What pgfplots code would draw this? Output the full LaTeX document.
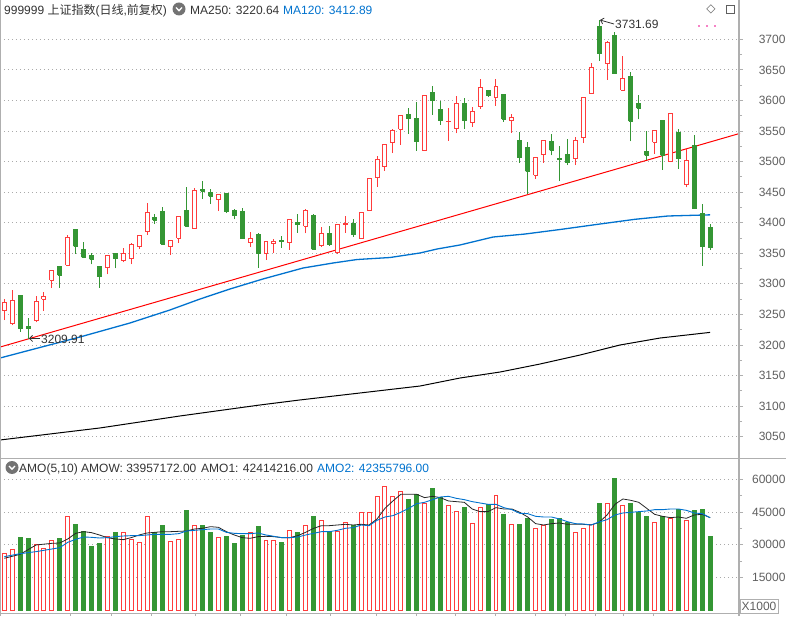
\documentclass[border=0pt]{standalone}
\usepackage{pgfplots}
\pgfplotsset{compat=1.18}
\usetikzlibrary{arrows.meta}
\usepackage{fontspec}
\setmainfont{Liberation Sans}
\newfontfamily\cjk{Noto Sans CJK SC}
\newfontfamily\sym{DejaVu Sans}

\definecolor{upred}{RGB}{255,60,60}
\definecolor{dngreen}{RGB}{52,150,52}
\definecolor{mablue}{RGB}{0,114,206}
\definecolor{txt}{RGB}{51,51,51}
\definecolor{axgray}{RGB}{175,175,175}
\definecolor{gridc}{RGB}{170,170,170}
\definecolor{lbl}{RGB}{95,95,95}

\pgfplotsset{
  chartax/.style={
    scale only axis, width=740pt, anchor=south west,
    xmin=0.458, xmax=93.77,
    axis line style={draw=none},
    tick align=outside, ytick pos=right, yticklabel pos=right, xtick pos=bottom,
    major tick length=3pt, minor tick length=2pt,
    every tick/.style={draw=axgray, line width=0.8pt},
    ymajorgrids,
    major grid style={draw=gridc, line width=0.8pt, dash pattern=on 1pt off 3pt},
    yticklabel style={anchor=east, xshift=46pt, text=lbl, font=\fontsize{12}{14}\selectfont},
    /pgf/number format/1000 sep={}, /pgf/number format/assume math mode=true,
    scaled y ticks=false,
  }
}

\begin{document}
\begin{tikzpicture}[every node/.style={font=\fontsize{12}{14}\selectfont}]
\useasboundingbox (0pt,0pt) rectangle (786pt,616pt);

\begin{axis}[chartax, at={(0pt,159pt)}, height=457pt,
  ymin=3016.8, ymax=3764.3,
  ytick={3050,3100,...,3700}, minor y tick num=1, xtick=\empty,
  unbounded coords=jump]

% trend line through the 3209.91 low
\addplot[red, line width=1pt] coordinates {(0.458,3196.6) (93.77,3546.2)};
% MA250
\addplot[black, line width=1pt] coordinates {
(0.458,3044.6) (13.067,3064.3) (23.156,3083.9) (33.245,3101.9) (38.289,3110.1)
(45.855,3121.5) (53.421,3132.9) (58.465,3146.0) (63.509,3155.8) (68.553,3168.9)
(73.597,3183.6) (78.641,3200.0) (83.685,3211.4) (90,3220.64)};
% MA120
\addplot[mablue, line width=1.3pt] coordinates {
(0.458,3178.7) (5.25,3195.1) (10.546,3213.1) (16.851,3236.0) (21.895,3257.3)
(25.678,3275.2) (29.461,3291.6) (33.623,3308.0) (38.667,3325.9) (42.45,3334.1)
(45.477,3339.8) (49.638,3343.1) (53.421,3350.5) (55.565,3357.0) (58.465,3363.6)
(62.627,3376.6) (66.662,3381.5) (71.076,3388.9) (76.12,3397.9) (80.534,3405.6)
(84.695,3411.0) (90,3412.89)};

% wicks of rising days: (day,low) (day,high)
\addplot[upred, line width=1pt] coordinates {
(1,3240.6) (1,3275.6) (1,nan) (2,3232) (2,3290) (2,nan) (5,3237) (5,3279.4) (5,nan)
(6,3256) (6,3286) (6,nan) (7,3294) (7,3322) (7,nan) (9,3330) (9,3380.7) (9,nan)
(14,3315.5) (14,3347) (14,nan) (16,3335) (16,3359) (16,nan) (17,3332) (17,3367) (17,nan)
(18,3357.7) (18,3380.7) (18,nan) (19,3379.6) (19,3431.6) (19,nan) (22,3347) (22,3370.3) (22,nan)
(23,3366.5) (23,3409.7) (23,nan) (25,3390) (25,3456.8) (25,nan) (28,3419) (28,3447.5) (28,nan)
(32,3360) (32,3385.6) (32,nan) (34,3339.6) (34,3369) (34,nan) (35,3351) (35,3374) (35,nan)
(37,3355.5) (37,3405.5) (37,nan) (39,3382.4) (39,3422.5) (39,nan) (41,3360.4) (41,3393.4) (41,nan)
(43,3349.5) (43,3397.8) (43,nan) (44,3383.5) (44,3410.4) (44,nan) (46,3373.6) (46,3416) (46,nan)
(47,3419.7) (47,3472) (47,nan) (48,3458.5) (48,3508.7) (48,nan) (49,3484.7) (49,3527.9) (49,nan)
(50,3514) (50,3554) (50,nan) (51,3527.9) (51,3575.4) (51,nan) (54,3518) (54,3608.7) (54,nan)
(57,3534) (57,3587.4) (57,nan) (58,3546) (58,3607) (58,nan) (60,3557) (60,3589) (60,nan)
(61,3586.3) (61,3635) (61,nan) (63,3591) (63,3634.4) (63,nan) (65,3547) (65,3577.6) (65,nan)
(68,3471.7) (68,3506) (68,nan) (69,3497.8) (69,3533.7) (69,nan) (73,3494) (73,3540.8) (73,nan)
(74,3530) (74,3604.3) (74,nan) (75,3612) (75,3661.4) (75,nan) (77,3634.2) (77,3696.7) (77,nan)
(79,3616.8) (79,3672.3) (79,nan) (83,3513.2) (83,3551.4) (83,nan) (85,3500) (85,3578) (85,nan)
(87,3458) (87,3520.8)};
% wicks of falling days
\addplot[dngreen, line width=1pt] coordinates {
(3,3221.5) (3,3280.5) (3,nan) (4,3209.91) (4,3244) (4,nan) (8,3294) (8,3328) (8,nan)
(10,3349) (10,3389) (10,nan) (11,3342) (11,3368) (11,nan) (12,3332) (12,3350.6) (12,nan)
(13,3294) (13,3328) (13,nan) (15,3325.5) (15,3349) (15,nan) (20,3397.6) (20,3415) (20,nan)
(21,3365) (21,3425) (21,nan) (24,3394.4) (24,3457.9) (24,nan) (26,3438.7) (26,3467.7) (26,nan)
(27,3430.5) (27,3454.6) (27,nan) (29,3415.7) (29,3448) (29,nan) (30,3405.3) (30,3422.8) (30,nan)
(31,3374.7) (31,3423.4) (31,nan) (33,3326.4) (33,3384) (33,nan) (36,3358.8) (36,3379) (36,nan)
(38,3383.5) (38,3414) (38,nan) (40,3355.5) (40,3414.8) (40,nan) (42,3362) (42,3394) (42,nan)
(45,3377) (45,3406.6) (45,nan) (52,3545.4) (52,3587.4) (52,nan) (53,3517.5) (53,3597.3) (53,nan)
(55,3576.5) (55,3623) (55,nan) (56,3560) (56,3598.4) (56,nan) (59,3553.6) (59,3603.3) (59,nan)
(62,3606) (62,3617) (62,nan) (64,3565) (64,3610.4) (64,nan) (66,3497.8) (66,3549) (66,nan)
(67,3447.3) (67,3532.6) (67,nan) (70,3510.3) (70,3545.6) (70,nan) (71,3468) (71,3526) (71,nan)
(72,3494) (72,3537.5) (72,nan) (76,3665.2) (76,3731.69) (76,nan) (78,3644) (78,3711.4) (78,nan)
(80,3533) (80,3646.2) (80,nan) (81,3569) (81,3608.7) (81,nan) (82,3503) (82,3549.8) (82,nan)
(84,3486.5) (84,3566.7) (84,nan) (86,3488) (86,3553.6) (86,nan) (88,3423) (88,3543.8) (88,nan)
(89,3329.8) (89,3430.8) (89,nan) (90,3355.5) (90,3397.5)};

% bodies of rising days (open to close), hollow
\addplot[draw=upred, fill=white, line width=1pt] coordinates {
(0.75,3257) (1.25,3257) (1.25,3270) (0.75,3270) (0.75,3257) (1,nan)
(1.75,3235) (2.25,3235) (2.25,3273) (1.75,3273) (1.75,3235) (2,nan)
(4.75,3240.6) (5.25,3240.6) (5.25,3271.8) (4.75,3271.8) (4.75,3240.6) (5,nan)
(5.75,3275) (6.25,3275) (6.25,3279.4) (5.75,3279.4) (5.75,3275) (6,nan)
(6.75,3305.7) (7.25,3305.7) (7.25,3321.6) (6.75,3321.6) (6.75,3305.7) (7,nan)
(8.75,3330.3) (9.25,3330.3) (9.25,3375.2) (8.75,3375.2) (8.75,3330.3) (9,nan)
(13.75,3326) (14.25,3326) (14.25,3347) (13.75,3347) (13.75,3326) (14,nan)
(15.75,3339) (16.25,3339) (16.25,3349) (15.75,3349) (15.75,3339) (16,nan)
(16.75,3340.7) (17.25,3340.7) (17.25,3363.7) (16.75,3363.7) (16.75,3340.7) (17,nan)
(17.75,3360.4) (18.25,3360.4) (18.25,3378.5) (17.75,3378.5) (17.75,3360.4) (18,nan)
(18.75,3385) (19.25,3385) (19.25,3416) (18.75,3416) (18.75,3385) (19,nan)
(21.75,3360.4) (22.25,3360.4) (22.25,3370.3) (21.75,3370.3) (21.75,3360.4) (22,nan)
(22.75,3374.7) (23.25,3374.7) (23.25,3409.7) (22.75,3409.7) (22.75,3374.7) (23,nan)
(24.75,3390) (25.25,3390) (25.25,3452.4) (24.75,3452.4) (24.75,3390) (25,nan)
(27.75,3437.6) (28.25,3437.6) (28.25,3445.8) (27.75,3445.8) (27.75,3437.6) (28,nan)
(31.75,3367) (32.25,3367) (32.25,3373.6) (31.75,3373.6) (31.75,3367) (32,nan)
(33.75,3349) (34.25,3349) (34.25,3369) (33.75,3369) (33.75,3349) (34,nan)
(34.75,3366) (35.25,3366) (35.25,3368.7) (34.75,3368.7) (34.75,3366) (35,nan)
(36.75,3367.6) (37.25,3367.6) (37.25,3405.5) (36.75,3405.5) (36.75,3367.6) (37,nan)
(38.75,3394) (39.25,3394) (39.25,3420.3) (38.75,3420.3) (38.75,3394) (39,nan)
(40.75,3362) (41.25,3362) (41.25,3382.4) (40.75,3382.4) (40.75,3362) (41,nan)
(42.75,3351) (43.25,3351) (43.25,3397.8) (42.75,3397.8) (42.75,3351) (43,nan)
(43.75,3397.3) (44.25,3397.3) (44.25,3398.4) (43.75,3398.4) (43.75,3397.3) (44,nan)
(45.75,3374.7) (46.25,3374.7) (46.25,3416) (45.75,3416) (45.75,3374.7) (46,nan)
(46.75,3419.7) (47.25,3419.7) (47.25,3472) (46.75,3472) (46.75,3419.7) (47,nan)
(47.75,3473.8) (48.25,3473.8) (48.25,3503.3) (47.75,3503.3) (47.75,3473.8) (48,nan)
(48.75,3491.8) (49.25,3491.8) (49.25,3527.9) (48.75,3527.9) (48.75,3491.8) (49,nan)
(49.75,3531) (50.25,3531) (50.25,3550.8) (49.75,3550.8) (49.75,3531) (50,nan)
(50.75,3552.5) (51.25,3552.5) (51.25,3575.4) (50.75,3575.4) (50.75,3552.5) (51,nan)
(53.75,3518) (54.25,3518) (54.25,3608.7) (53.75,3608.7) (53.75,3518) (54,nan)
(56.75,3565) (57.25,3565) (57.25,3566) (56.75,3566) (56.75,3565) (57,nan)
(57.75,3554) (58.25,3554) (58.25,3595) (57.75,3595) (57.75,3554) (58,nan)
(59.75,3564) (60.25,3564) (60.25,3582) (59.75,3582) (59.75,3564) (60,nan)
(60.75,3590) (61.25,3590) (61.25,3621.3) (60.75,3621.3) (60.75,3590) (61,nan)
(62.75,3605) (63.25,3605) (63.25,3623) (62.75,3623) (62.75,3605) (63,nan)
(64.75,3567) (65.25,3567) (65.25,3572) (64.75,3572) (64.75,3567) (65,nan)
(67.75,3478) (68.25,3478) (68.25,3506) (67.75,3506) (67.75,3478) (68,nan)
(68.75,3510.9) (69.25,3510.9) (69.25,3533.7) (68.75,3533.7) (68.75,3510.9) (69,nan)
(72.75,3504.3) (73.25,3504.3) (73.25,3534.2) (72.75,3534.2) (72.75,3504.3) (73,nan)
(73.75,3540.2) (74.25,3540.2) (74.25,3604.3) (73.75,3604.3) (73.75,3540.2) (74,nan)
(74.75,3612) (75.25,3612) (75.25,3654.3) (74.75,3654.3) (74.75,3612) (75,nan)
(76.75,3660.3) (77.25,3660.3) (77.25,3695) (76.75,3695) (76.75,3660.3) (77,nan)
(78.75,3616.8) (79.25,3616.8) (79.25,3636.4) (78.75,3636.4) (78.75,3616.8) (79,nan)
(82.75,3531.8) (83.25,3531.8) (83.25,3551.4) (82.75,3551.4) (82.75,3531.8) (83,nan)
(84.75,3500) (85.25,3500) (85.25,3578) (84.75,3578) (84.75,3500) (85,nan)
(86.75,3462.4) (87.25,3462.4) (87.25,3502.3) (86.75,3502.3) (86.75,3462.4)};
% bodies of falling days (close to open), filled
\addplot[draw=dngreen, fill=dngreen, line width=1pt] coordinates {
(2.75,3227) (3.25,3227) (3.25,3280.5) (2.75,3280.5) (2.75,3227) (3,nan)
(3.75,3227.4) (4.25,3227.4) (4.25,3230) (3.75,3230) (3.75,3227.4) (4,nan)
(7.75,3314) (8.25,3314) (8.25,3328) (7.75,3328) (7.75,3314) (8,nan)
(9.75,3361.5) (10.25,3361.5) (10.25,3389) (9.75,3389) (9.75,3361.5) (10,nan)
(10.75,3343.5) (11.25,3343.5) (11.25,3356) (10.75,3356) (10.75,3343.5) (11,nan)
(11.75,3340) (12.25,3340) (12.25,3345.6) (11.75,3345.6) (11.75,3340) (12,nan)
(12.75,3312) (13.25,3312) (13.25,3328) (12.75,3328) (12.75,3312) (13,nan)
(14.75,3342) (15.25,3342) (15.25,3349) (14.75,3349) (14.75,3342) (15,nan)
(19.75,3404) (20.25,3404) (20.25,3408.6) (19.75,3408.6) (19.75,3404) (20,nan)
(20.75,3365) (21.25,3365) (21.25,3418.4) (20.75,3418.4) (20.75,3365) (21,nan)
(23.75,3394.4) (24.25,3394.4) (24.25,3420) (23.75,3420) (23.75,3394.4) (24,nan)
(25.75,3451.8) (26.25,3451.8) (26.25,3454.6) (25.75,3454.6) (25.75,3451.8) (26,nan)
(26.75,3443.6) (27.25,3443.6) (27.25,3449.6) (26.75,3449.6) (26.75,3443.6) (27,nan)
(28.75,3418.4) (29.25,3418.4) (29.25,3448) (28.75,3448) (28.75,3418.4) (29,nan)
(29.75,3412.4) (30.25,3412.4) (30.25,3419.5) (29.75,3419.5) (29.75,3412.4) (30,nan)
(30.75,3374.7) (31.25,3374.7) (31.25,3418.4) (30.75,3418.4) (30.75,3374.7) (31,nan)
(32.75,3349) (33.25,3349) (33.25,3381.3) (32.75,3381.3) (32.75,3349) (33,nan)
(35.75,3368.7) (36.25,3368.7) (36.25,3371.4) (35.75,3371.4) (35.75,3368.7) (36,nan)
(37.75,3396.7) (38.25,3396.7) (38.25,3401) (37.75,3401) (37.75,3396.7) (38,nan)
(39.75,3356.6) (40.25,3356.6) (40.25,3411) (39.75,3411) (39.75,3356.6) (40,nan)
(41.75,3363.7) (42.25,3363.7) (42.25,3383) (41.75,3383) (41.75,3363.7) (42,nan)
(44.75,3380.2) (45.25,3380.2) (45.25,3399.5) (44.75,3399.5) (44.75,3380.2) (45,nan)
(51.75,3570) (52.25,3570) (52.25,3577.6) (51.75,3577.6) (51.75,3570) (52,nan)
(52.75,3532.2) (53.25,3532.2) (53.25,3571) (52.75,3571) (52.75,3532.2) (53,nan)
(54.75,3599.5) (55.25,3599.5) (55.25,3613) (54.75,3613) (54.75,3599.5) (55,nan)
(55.75,3566.7) (56.25,3566.7) (56.25,3585.8) (55.75,3585.8) (55.75,3566.7) (56,nan)
(58.75,3566.7) (59.25,3566.7) (59.25,3595.6) (58.75,3595.6) (58.75,3566.7) (59,nan)
(61.75,3607.7) (62.25,3607.7) (62.25,3617) (61.75,3617) (61.75,3607.7) (62,nan)
(63.75,3569.4) (64.25,3569.4) (64.25,3610.4) (63.75,3610.4) (63.75,3569.4) (64,nan)
(65.75,3506) (66.25,3506) (66.25,3535) (65.75,3535) (65.75,3506) (66,nan)
(66.75,3484) (67.25,3484) (67.25,3522.8) (66.75,3522.8) (66.75,3484) (67,nan)
(69.75,3518.5) (70.25,3518.5) (70.25,3532.6) (69.75,3532.6) (69.75,3518.5) (70,nan)
(70.75,3504) (71.25,3504) (71.25,3505) (70.75,3505) (70.75,3504) (71,nan)
(71.75,3497.8) (72.25,3497.8) (72.25,3510.9) (71.75,3510.9) (71.75,3497.8) (72,nan)
(75.75,3676.6) (76.25,3676.6) (76.25,3721.2) (75.75,3721.2) (75.75,3676.6) (76,nan)
(77.75,3644) (78.25,3644) (78.25,3707) (77.75,3707) (77.75,3644) (78,nan)
(79.75,3565.8) (80.25,3565.8) (80.25,3638.6) (79.75,3638.6) (79.75,3565.8) (80,nan)
(80.75,3587) (81.25,3587) (81.25,3595.6) (80.75,3595.6) (80.75,3587) (81,nan)
(81.75,3510) (82.25,3510) (82.25,3516) (81.75,3516) (81.75,3510) (82,nan)
(83.75,3510) (84.25,3510) (84.25,3566.7) (83.75,3566.7) (83.75,3510) (84,nan)
(85.75,3504.5) (86.25,3504.5) (86.25,3547) (85.75,3547) (85.75,3504.5) (86,nan)
(87.75,3423) (88.25,3423) (88.25,3526.9) (87.75,3526.9) (87.75,3423) (88,nan)
(88.75,3361) (89.25,3361) (89.25,3415.5) (88.75,3415.5) (88.75,3361) (89,nan)
(89.75,3359.3) (90.25,3359.3) (90.25,3391.5) (89.75,3391.5) (89.75,3359.3)};
\end{axis}

\begin{axis}[chartax, at={(0pt,3pt)}, height=156pt,
  ymin=-1377, ymax=70242,
  ytick={15000,30000,45000,60000}, minor y tick num=1,
  xtick={9.28,14.54,19.59,25.05,30.72,36.61,42.07,47.96,53.0,57.83,62.87,67.92,71.7,75.48,79.01,82.79},
  xticklabels={}]
\addplot[ybar, bar width=0.5, bar shift=0pt, draw=upred, fill=white, line width=1pt] coordinates {
(1,25714) (2,27857) (5,30153) (6,28316) (7,31684) (9,43010) (14,33673) (16,35663)
(17,32143) (18,31071) (19,43010) (22,31531) (23,32449) (25,38571) (28,33061) (32,35663)
(34,31684) (35,31684) (37,36582) (39,38571) (41,41173) (43,35969) (44,39949) (46,44847)
(47,44847) (48,52194) (49,56786) (50,52194) (51,54490) (54,48673) (57,48061) (58,45306)
(60,39796) (61,47143) (63,52653) (65,39337) (68,37194) (69,38571) (73,35663) (74,37194)
(75,39337) (77,48673) (79,48061) (83,40255) (85,41786) (87,40867)};
\addplot[ybar, bar width=0.5, bar shift=0pt, draw=dngreen, fill=dngreen, line width=1pt] coordinates {
(3,33061) (4,32602) (8,32602) (10,39031) (11,35969) (12,29082) (13,30306) (15,35357)
(20,35663) (21,38571) (24,45459) (26,38571) (27,35357) (29,33673) (30,30306) (31,34133)
(33,38112) (36,30765) (38,35357) (40,43010) (42,35969) (45,38571) (52,50663) (53,52959)
(55,55561) (56,51735) (59,46837) (62,48367) (64,43622) (66,39031) (67,41786) (70,41327)
(71,41786) (72,39949) (76,48673) (78,60153) (80,48673) (81,44847) (82,42704) (84,42704)
(86,46071) (88,45459) (89,46071) (90,33957)};
% AMO1 (5)
\addplot[black!85, line width=0.8pt] coordinates {
(1,23724) (3,25561) (5,29847) (7,30612) (8,30765) (9,32602) (10,35204) (11,35969)
(12,35510) (13,34439) (14,33214) (15,32602) (16,32296) (17,33214) (18,34439) (19,35357)
(20,35663) (21,35969) (22,35969) (23,36122) (24,36275) (25,37193) (26,37500) (27,38265)
(28,37959) (29,35969) (30,34439) (31,33214) (32,32908) (33,33673) (34,33826) (35,33673)
(36,33214) (37,33214) (38,34132) (39,35663) (40,37500) (41,38724) (42,38724) (43,39030)
(44,39336) (45,39030) (46,39336) (47,39030) (48,41785) (49,46683) (50,50051) (51,53112)
(52,53112) (53,53112) (54,51581) (55,52193) (56,51581) (57,50051) (58,49745) (59,49438)
(60,46377) (61,45153) (62,45153) (63,46989) (64,46377) (65,46377) (66,44847) (67,42704)
(68,39643) (69,39030) (70,39643) (71,39949) (72,39336) (73,39336) (74,39336) (75,39030)
(76,40255) (77,43622) (78,48520) (79,50969) (80,50357) (81,49438) (82,46683) (83,43928)
(84,43010) (85,42398) (86,42704) (87,42092) (88,43622) (89,43928) (90,42414)};
% AMO2 (10)
\addplot[mablue, line width=0.9pt] coordinates {
(1,24490) (3,25867) (5,26786) (7,28010) (8,28622) (9,31071) (10,32449) (11,33520)
(12,33367) (13,33061) (14,33214) (15,33673) (16,33979) (17,34132) (18,34132) (19,34439)
(20,34745) (21,34745) (22,34745) (23,35051) (24,36275) (25,36581) (26,36887) (27,37193)
(28,37193) (29,35663) (30,35204) (31,35051) (32,35051) (33,35357) (34,34439) (35,33826)
(36,33214) (37,33214) (38,33520) (39,34439) (40,35204) (41,35969) (42,35969) (43,36581)
(44,37500) (45,37806) (46,39030) (47,38724) (48,41173) (49,42704) (50,43316) (51,44847)
(52,46683) (53,48826) (54,49438) (55,50663) (56,51887) (57,52193) (58,51276) (59,50663)
(60,49745) (61,49132) (62,48520) (63,48520) (64,46989) (65,46071) (66,44387) (67,44234)
(68,43010) (69,42704) (70,42704) (71,41785) (72,40561) (73,39643) (74,39490) (75,39030)
(76,40408) (77,41479) (78,43622) (79,44540) (80,44847) (81,45153) (82,45459) (83,46071)
(84,46071) (85,46377) (86,46377) (87,45765) (88,44540) (89,44234) (90,42356)};
\end{axis}

% frame
\draw[axgray, line width=1pt] (0.5pt,0pt) -- (0.5pt,616pt);
\draw[axgray, line width=2pt] (739pt,0pt) -- (739pt,616pt);
\draw[axgray, line width=1.5pt] (0pt,157.5pt) -- (786pt,157.5pt);
\draw[axgray, line width=1pt] (0pt,2.5pt) -- (740pt,2.5pt);

% headers
\node[anchor=base west, inner sep=0, text=txt] at (4pt,601pt)
  {999999 {\cjk 上证指数}({\cjk 日线},{\cjk 前复权})};
\fill[black!55] (179pt,607pt) circle (6.5pt);
\draw[white, line width=1.3pt] (176pt,608.5pt) -- (179pt,605.3pt) -- (182pt,608.5pt);
\node[anchor=base west, inner sep=0, text=txt] at (190pt,601pt) {MA250: 3220.64};
\node[anchor=base west, inner sep=0, text=mablue] at (283pt,601pt) {MA120: 3412.89};

\fill[black!55] (12pt,148.5pt) circle (6.5pt);
\draw[white, line width=1.3pt] (9pt,150pt) -- (12pt,146.8pt) -- (15pt,150pt);
\node[anchor=base west, inner sep=0, text=txt] at (19pt,144pt) {AMO(5,10)};
\node[anchor=base west, inner sep=0, text=txt] at (81pt,144pt) {AMOW: 33957172.00};
\node[anchor=base west, inner sep=0, text=txt] at (201pt,144pt) {AMO1: 42414216.00};
\node[anchor=base west, inner sep=0, text=mablue] at (317pt,144pt) {AMO2: 42355796.00};

% top right icons
\node[text=lbl, inner sep=0] at (711pt,607pt) {\sym ◇};
\draw[lbl, line width=0.8pt] (726pt,603pt) rectangle (734pt,611pt);
\fill[magenta] (699pt,590pt) circle (0.9pt);
\fill[magenta] (707pt,590pt) circle (0.9pt);
\fill[magenta] (715pt,590pt) circle (0.9pt);

% extreme value notes
\draw[txt, line width=0.8pt, -{Straight Barb[length=3pt]}] (40pt,277.5pt) -- (29pt,277.5pt);
\node[anchor=base west, inner sep=0, text=txt] at (41pt,272pt) {3209.91};
\draw[txt, line width=0.8pt, -{Straight Barb[length=3pt]}] (614pt,592pt) -- (600pt,596pt);
\node[anchor=base west, inner sep=0, text=txt] at (615pt,587pt) {3731.69};

% unit box
\draw[axgray, line width=0.8pt] (740pt,3pt) rectangle (778pt,17pt);
\node[text=lbl, inner sep=0] at (759pt,10pt) {X1000};
\end{tikzpicture}
\end{document}
